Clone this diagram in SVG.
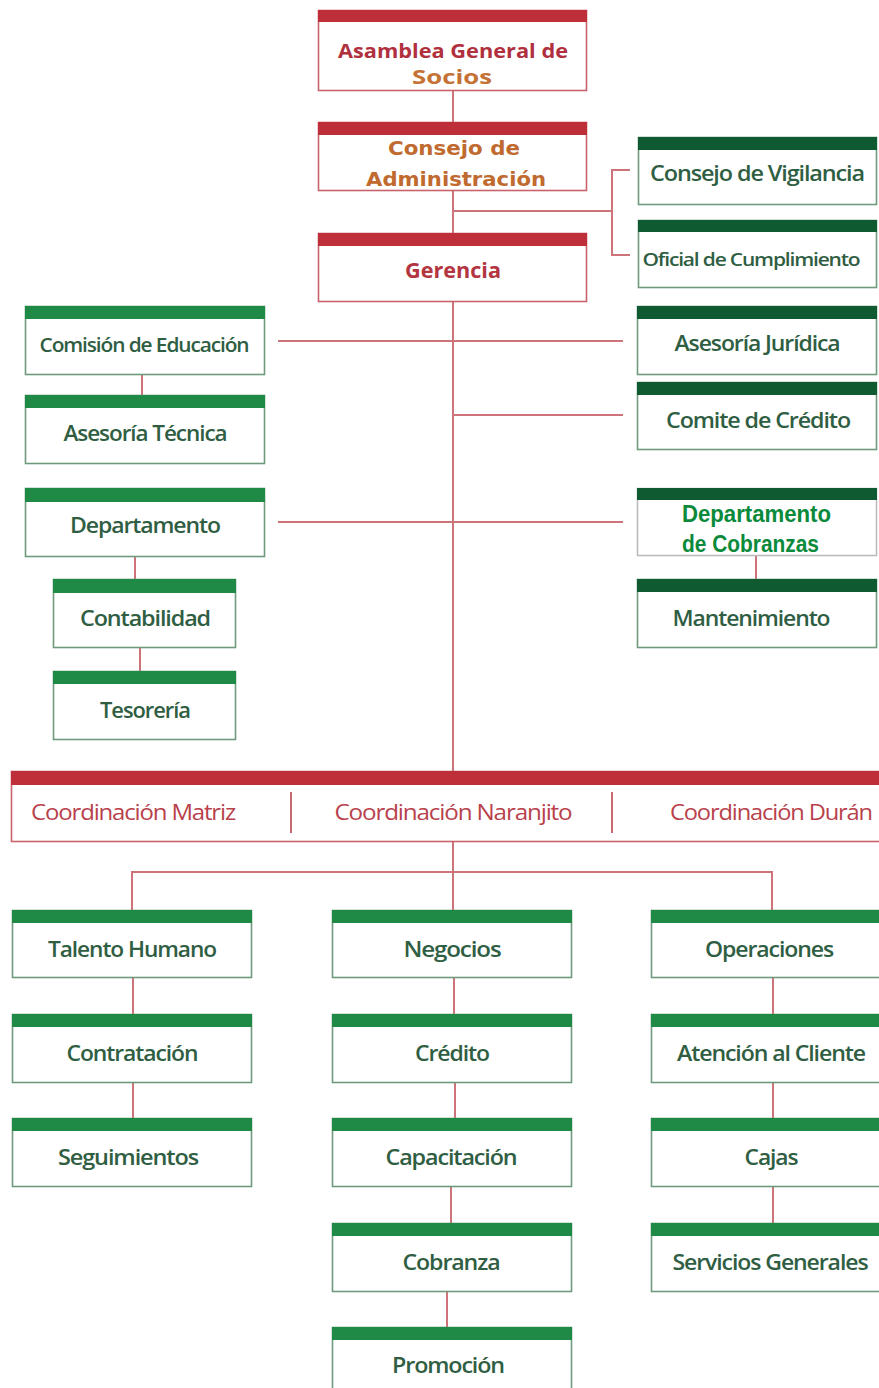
<svg xmlns="http://www.w3.org/2000/svg" width="879" height="1388" viewBox="0 0 879 1388">
<style>
.bg{fill:#ffffff}
.rbox{fill:#ffffff;stroke:#c8626b;stroke-width:1.6}
.gbox{fill:#ffffff;stroke:#6f9a7c;stroke-width:1.6}
.rbar{fill:#bf2f39}
.gbar{fill:#1f8a45}
.dbar{fill:#0f5a31}
.conn{stroke:#cd747b;stroke-width:2;fill:none}
.div{stroke:#c86a72;stroke-width:2}
.gt{font-family:"Open Sans","Liberation Sans",sans-serif;font-size:21px;font-weight:600;fill:#2f5e43;text-anchor:middle;letter-spacing:-1px}
.rt{font-family:"Open Sans","Liberation Sans",sans-serif;font-size:21px;font-weight:700;fill:#b0303e;text-anchor:middle}
.ot{font-family:"DejaVu Sans","Liberation Sans",sans-serif;font-size:20px;font-weight:700;fill:#c06a30;text-anchor:middle}
.ct{font-family:"Open Sans","Liberation Sans",sans-serif;font-size:21px;fill:#b8414b;text-anchor:middle;letter-spacing:-1px}
.bt{font-family:"Liberation Sans","Open Sans",sans-serif;font-size:23px;font-weight:700;fill:#0a8a3a}
</style>
<rect class="bg" x="0" y="0" width="879" height="1388"/>

<g id="connectors">
  <line class="conn" x1="453" y1="90" x2="453" y2="122"/>
  <line class="conn" x1="453" y1="191" x2="453" y2="233"/>
  <line class="conn" x1="453" y1="211" x2="612" y2="211"/>
  <polyline class="conn" points="630,170 612,170 612,255 630,255"/>
  <line class="conn" x1="453" y1="302" x2="453" y2="772"/>
  <line class="conn" x1="278" y1="341" x2="623" y2="341"/>
  <line class="conn" x1="453" y1="415" x2="623" y2="415"/>
  <line class="conn" x1="278" y1="522" x2="623" y2="522"/>
  <line class="conn" x1="142" y1="374" x2="142" y2="395"/>
  <line class="conn" x1="135" y1="557" x2="135" y2="579"/>
  <line class="conn" x1="140" y1="648" x2="140" y2="671"/>
  <line class="conn" x1="756" y1="555" x2="756" y2="579"/>
  <line class="conn" x1="453" y1="842" x2="453" y2="910"/>
  <polyline class="conn" points="132,910 132,872 772,872 772,910"/>
  <line class="conn" x1="133" y1="978" x2="133" y2="1014"/>
  <line class="conn" x1="133" y1="1082" x2="133" y2="1118"/>
  <line class="conn" x1="454" y1="978" x2="454" y2="1014"/>
  <line class="conn" x1="455" y1="1082" x2="455" y2="1118"/>
  <line class="conn" x1="451" y1="1187" x2="451" y2="1223"/>
  <line class="conn" x1="447" y1="1292" x2="447" y2="1327"/>
  <line class="conn" x1="773" y1="978" x2="773" y2="1014"/>
  <line class="conn" x1="773" y1="1082" x2="773" y2="1118"/>
  <line class="conn" x1="773" y1="1187" x2="773" y2="1223"/>
</g>

<g id="asamblea">
  <rect class="rbox" x="318.5" y="10.5" width="268" height="80"/>
  <rect class="rbar" x="318" y="10" width="269" height="12"/>
  <text class="rt" x="453" y="58" style="font-size:19px" textLength="230" lengthAdjust="spacingAndGlyphs">Asamblea General de</text>
  <text class="rt" x="452" y="84" style="fill:#c47235;font-size:19px" textLength="80" lengthAdjust="spacingAndGlyphs">Socios</text>
</g>

<g id="consejo-admin">
  <rect class="rbox" x="318.5" y="122.5" width="268" height="68"/>
  <rect class="rbar" x="318" y="122" width="269" height="13"/>
  <text class="ot" x="454" y="155" textLength="132" lengthAdjust="spacingAndGlyphs">Consejo de</text>
  <text class="ot" x="456" y="186" textLength="180" lengthAdjust="spacingAndGlyphs">Administración</text>
</g>

<g id="gerencia">
  <rect class="rbox" x="318.5" y="233.5" width="268" height="68"/>
  <rect class="rbar" x="318" y="233" width="269" height="13"/>
  <text class="rt" x="453" y="278" style="fill:#b3353f" textLength="96" lengthAdjust="spacingAndGlyphs">Gerencia</text>
</g>

<g id="consejo-vigilancia">
  <rect class="gbox" x="638.5" y="137.5" width="238" height="67"/>
  <rect class="dbar" x="638" y="137" width="239" height="13"/>
  <text class="gt" x="757" y="181" textLength="214" lengthAdjust="spacingAndGlyphs">Consejo de Vigilancia</text>
</g>

<g id="oficial-cumplimiento">
  <rect class="gbox" x="638.5" y="220.5" width="238" height="67"/>
  <rect class="dbar" x="638" y="220" width="239" height="12"/>
  <text class="gt" x="751" y="266" style="font-size:18px" textLength="217" lengthAdjust="spacingAndGlyphs">Oficial de Cumplimiento</text>
</g>

<g id="comision-educacion">
  <rect class="gbox" x="25.5" y="306.5" width="239" height="68"/>
  <rect class="gbar" x="25" y="306" width="240" height="13"/>
  <text class="gt" x="144" y="352" style="font-size:19px" textLength="209" lengthAdjust="spacingAndGlyphs">Comisión de Educación</text>
</g>

<g id="asesoria-tecnica">
  <rect class="gbox" x="25.5" y="395.5" width="239" height="68"/>
  <rect class="gbar" x="25" y="395" width="240" height="13"/>
  <text class="gt" x="145" y="441" textLength="163" lengthAdjust="spacingAndGlyphs">Asesoría Técnica</text>
</g>

<g id="departamento">
  <rect class="gbox" x="25.5" y="488.5" width="239" height="68"/>
  <rect class="gbar" x="25" y="488" width="240" height="14"/>
  <text class="gt" x="145" y="533" textLength="150" lengthAdjust="spacingAndGlyphs">Departamento</text>
</g>

<g id="contabilidad">
  <rect class="gbox" x="53.5" y="579.5" width="182" height="68"/>
  <rect class="gbar" x="53" y="579" width="183" height="14"/>
  <text class="gt" x="145" y="626" textLength="130" lengthAdjust="spacingAndGlyphs">Contabilidad</text>
</g>

<g id="tesoreria">
  <rect class="gbox" x="53.5" y="671.5" width="182" height="68"/>
  <rect class="gbar" x="53" y="671" width="183" height="13"/>
  <text class="gt" x="145" y="718" textLength="90" lengthAdjust="spacingAndGlyphs">Tesorería</text>
</g>

<g id="asesoria-juridica">
  <rect class="gbox" x="637.5" y="306.5" width="239" height="68"/>
  <rect class="dbar" x="637" y="306" width="240" height="13"/>
  <text class="gt" x="757" y="351" textLength="165" lengthAdjust="spacingAndGlyphs">Asesoría Jurídica</text>
</g>

<g id="comite-credito">
  <rect class="gbox" x="637.5" y="382.5" width="239" height="67"/>
  <rect class="dbar" x="637" y="382" width="240" height="13"/>
  <text class="gt" x="758" y="428" textLength="184" lengthAdjust="spacingAndGlyphs">Comite de Crédito</text>
</g>

<g id="departamento-cobranzas">
  <rect x="637.5" y="488.5" width="239" height="67" fill="#ffffff" stroke="#b9b9b9" stroke-width="1.5"/>
  <rect class="dbar" x="637" y="488" width="240" height="12"/>
  <text class="bt" x="682" y="522" textLength="149" lengthAdjust="spacingAndGlyphs">Departamento</text>
  <text class="bt" x="682" y="552" textLength="137" lengthAdjust="spacingAndGlyphs">de Cobranzas</text>
</g>

<g id="mantenimiento">
  <rect class="gbox" x="637.5" y="579.5" width="239" height="68"/>
  <rect class="dbar" x="637" y="579" width="240" height="13"/>
  <text class="gt" x="751" y="626" textLength="157" lengthAdjust="spacingAndGlyphs">Mantenimiento</text>
</g>

<g id="coordinaciones">
  <rect class="rbox" x="11.5" y="771.5" width="880" height="70"/>
  <rect class="rbar" x="11" y="771" width="880" height="14"/>
  <line class="div" x1="291" y1="792" x2="291" y2="833"/>
  <line class="div" x1="612" y1="792" x2="612" y2="833"/>
  <text class="ct" x="133" y="820" textLength="204" lengthAdjust="spacingAndGlyphs">Coordinación Matriz</text>
  <text class="ct" x="453" y="820" textLength="237" lengthAdjust="spacingAndGlyphs">Coordinación Naranjito</text>
  <text class="ct" x="771" y="820" textLength="202" lengthAdjust="spacingAndGlyphs">Coordinación Durán</text>
</g>

<g id="talento-humano">
  <rect class="gbox" x="12.5" y="910.5" width="239" height="67"/>
  <rect class="gbar" x="12" y="910" width="240" height="13"/>
  <text class="gt" x="132" y="957" textLength="168" lengthAdjust="spacingAndGlyphs">Talento Humano</text>
</g>
<g id="contratacion">
  <rect class="gbox" x="12.5" y="1014.5" width="239" height="68"/>
  <rect class="gbar" x="12" y="1014" width="240" height="13"/>
  <text class="gt" x="132" y="1061" textLength="131" lengthAdjust="spacingAndGlyphs">Contratación</text>
</g>
<g id="seguimientos">
  <rect class="gbox" x="12.5" y="1118.5" width="239" height="68"/>
  <rect class="gbar" x="12" y="1118" width="240" height="13"/>
  <text class="gt" x="128" y="1165" textLength="140" lengthAdjust="spacingAndGlyphs">Seguimientos</text>
</g>

<g id="negocios">
  <rect class="gbox" x="332.5" y="910.5" width="239" height="67"/>
  <rect class="gbar" x="332" y="910" width="240" height="13"/>
  <text class="gt" x="452" y="957" textLength="97" lengthAdjust="spacingAndGlyphs">Negocios</text>
</g>
<g id="credito">
  <rect class="gbox" x="332.5" y="1014.5" width="239" height="68"/>
  <rect class="gbar" x="332" y="1014" width="240" height="13"/>
  <text class="gt" x="452" y="1061" textLength="74" lengthAdjust="spacingAndGlyphs">Crédito</text>
</g>
<g id="capacitacion">
  <rect class="gbox" x="332.5" y="1118.5" width="239" height="68"/>
  <rect class="gbar" x="332" y="1118" width="240" height="13"/>
  <text class="gt" x="451" y="1165" textLength="131" lengthAdjust="spacingAndGlyphs">Capacitación</text>
</g>
<g id="cobranza">
  <rect class="gbox" x="332.5" y="1223.5" width="239" height="68"/>
  <rect class="gbar" x="332" y="1223" width="240" height="13"/>
  <text class="gt" x="451" y="1270" textLength="97" lengthAdjust="spacingAndGlyphs">Cobranza</text>
</g>
<g id="promocion">
  <rect class="gbox" x="332.5" y="1327.5" width="239" height="70"/>
  <rect class="gbar" x="332" y="1327" width="240" height="13"/>
  <text class="gt" x="448" y="1373" textLength="112" lengthAdjust="spacingAndGlyphs">Promoción</text>
</g>

<g id="operaciones">
  <rect class="gbox" x="651.5" y="910.5" width="240" height="67"/>
  <rect class="gbar" x="651" y="910" width="240" height="13"/>
  <text class="gt" x="769" y="957" textLength="128" lengthAdjust="spacingAndGlyphs">Operaciones</text>
</g>
<g id="atencion-cliente">
  <rect class="gbox" x="651.5" y="1014.5" width="240" height="68"/>
  <rect class="gbar" x="651" y="1014" width="240" height="13"/>
  <text class="gt" x="771" y="1061" textLength="188" lengthAdjust="spacingAndGlyphs">Atención al Cliente</text>
</g>
<g id="cajas">
  <rect class="gbox" x="651.5" y="1118.5" width="240" height="68"/>
  <rect class="gbar" x="651" y="1118" width="240" height="13"/>
  <text class="gt" x="771" y="1165" textLength="53" lengthAdjust="spacingAndGlyphs">Cajas</text>
</g>
<g id="servicios-generales">
  <rect class="gbox" x="651.5" y="1223.5" width="240" height="68"/>
  <rect class="gbar" x="651" y="1223" width="240" height="13"/>
  <text class="gt" x="770" y="1270" textLength="195" lengthAdjust="spacingAndGlyphs">Servicios Generales</text>
</g>
</svg>
